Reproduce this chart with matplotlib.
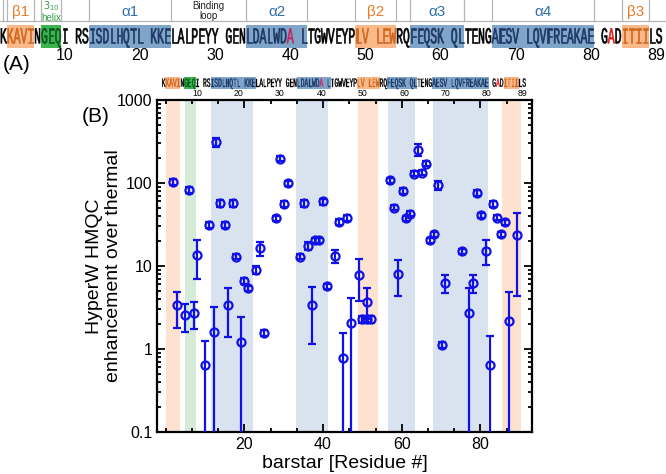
import matplotlib
matplotlib.use("Agg")
import matplotlib.pyplot as plt
import numpy as np
from matplotlib.font_manager import FontProperties
from matplotlib.patches import PathPatch, Rectangle
from matplotlib.textpath import TextPath
from matplotlib.ticker import FixedLocator, LogLocator, NullFormatter, FuncFormatter
from matplotlib.transforms import Affine2D

plt.rcParams["font.family"] = ["Liberation Sans", "DejaVu Sans"]

# ---- data ----
residue = [1.8, 2.8, 5.0, 5.9, 7.1, 7.9, 10.0, 10.9, 12.2, 12.9, 13.9, 15.0, 15.9, 17.0,
           18.0, 19.1, 20.0, 21.0, 23.0, 24.0, 25.1, 28.0, 29.1, 30.1, 31.1, 34.1, 35.1,
           36.1, 37.1, 38.0, 39.0, 40.0, 41.0, 43.0, 44.1, 45.0, 46.1, 47.1, 49.1, 50.0,
           51.1, 51.1, 52.2, 57.1, 58.1, 59.1, 60.2, 61.2, 62.2, 63.2, 64.2, 65.2, 66.2,
           67.2, 68.1, 69.2, 70.3, 71.1, 75.2, 77.2, 78.2, 79.2, 80.2, 81.3, 82.3, 83.2,
           84.3, 85.2, 86.3, 87.3, 89.4]
enhancement = [104, 3.4, 2.6, 82, 2.7, 13.6, 0.64, 31.5, 1.62, 312, 57, 31.5, 3.4, 57,
               13, 1.22, 6.6, 5.4, 9.0, 16.3, 1.57, 37.6, 196, 56, 100, 13, 57,
               17.6, 3.4, 20.5, 20.5, 60, 5.7, 13.3, 33.6, 0.77, 37.8, 2.07, 7.8, 2.28,
               2.28, 3.66, 2.28, 108, 50.5, 8.0, 80, 37.6, 42.7, 129, 250, 133, 171,
               20.4, 24.3, 94, 1.12, 6.2, 15, 2.74, 6.2, 76, 41, 15.1, 0.64, 56,
               38.2, 24.3, 33.6, 2.2, 23.8]
err_lo = [95, 1.8, 1.6, 75, 1.75, 7.0, 0.01, 29, 0.01, 275, 51, 29, 1.38, 51,
          12, 0.01, 6.1, 5.0, 8.0, 13.2, 1.45, 35, 182, 52, 93, 12, 52,
          15.8, 1.15, 19, 19, 55, 5.3, 10.8, 31, 0.01, 35, 0.01, 3.8, 2.05,
          2.05, 2.28, 2.05, 100, 47, 4.3, 74, 35, 40, 120, 211, 124, 159,
          19, 22.6, 82, 1.04, 4.7, 14, 0.01, 4.7, 69, 38, 10.3, 0.01, 52,
          35.5, 22.6, 31, 0.01, 4.4]
err_hi = [113, 4.8, 3.5, 90, 3.7, 20.5, 1.26, 34, 3.2, 350, 63, 34, 5.4, 63,
          14, 2.45, 7.1, 5.8, 10.0, 19.6, 1.7, 40, 210, 60, 107, 14, 62,
          19.6, 5.6, 22, 22, 65, 6.1, 15.6, 36.5, 1.55, 41, 4.15, 12, 2.5,
          2.5, 5.5, 2.5, 116, 54, 11.8, 86, 40, 45.5, 138, 292, 142, 183,
          22, 26, 106, 1.2, 7.8, 16, 5.5, 7.8, 83, 44, 20.5, 1.45, 60,
          41, 26, 36, 4.8, 44]

# secondary-structure shading in the plot (residue units)
band_start = [0.0, 4.8, 11.5, 33.2, 48.9, 56.4, 67.9, 85.6]
band_end = [3.6, 7.6, 22.2, 41.2, 54.0, 63.3, 81.9, 90.3]
band_kind = ["beta", "h310", "alpha", "alpha", "beta", "alpha", "alpha", "beta"]

# sequence strip
sequence = ("KKAVINGEQI RSISDLHQTL KKELALPEYY GENLDALWDA LTGWVEYPLV "
            "LEWRQFEQSK QLTENGAESV LQVFREAKAE GADITIILS")
seg_first = [1, 6, 13, 36, 52, 60, 72, 91]      # character index in `sequence`
seg_last = [4, 8, 24, 44, 57, 67, 86, 94]
red_chars = [42, 89]
number_labels = [10, 20, 30, 40, 50, 60, 70, 80, 89]
header_text = ["β1", "$3_{10}$\nhelix", "α1", "Binding\nloop", "α2", "β2", "α3", "α4", "β3"]
header_kind = ["beta", "h310", "alpha", "loop", "alpha", "beta", "alpha", "alpha", "beta"]
header_first = [1, 6, 13, 25, 36, 52, 60, 72, 91]
header_last = [4, 8, 24, 35, 44, 57, 67, 86, 94]

band_color = {"beta": "#fde2cf", "h310": "#d3ebd8", "alpha": "#d9e3ef"}
seg_bg = {"beta": "#f9b98a", "h310": "#3db54f", "alpha": "#7fa5c9"}
seg_fg = {"beta": "#d0661c", "h310": "#0b5a1f", "alpha": "#1d3766"}
label_fg = {"beta": "#ec7a2a", "h310": "#2f9e47", "alpha": "#2e6eaa", "loop": "#222222"}
BLUE = "#1010e8"
PITCH = 6.83  # px per sequence character (full-size strip)

W, H = 666, 474
fig = plt.figure(figsize=(W / 100, H / 100), dpi=100)

# ---- panel B ----
ax = fig.add_axes([157 / W, 42 / H, 375 / W, 332 / H])
for a, b, k in zip(band_start, band_end, band_kind):
    ax.axvspan(a, b, color=band_color[k], lw=0, zorder=0)

y = np.array(enhancement)
yerr = [y - np.array(err_lo), np.array(err_hi) - y]
ax.errorbar(residue, y, yerr=yerr, fmt="o", mfc="none", mec=BLUE, ecolor=BLUE,
            ms=5.8, mew=1.6, elinewidth=1.6, capsize=3, capthick=1.6, zorder=3)

ax.set_yscale("log")
ax.set_ylim(0.1, 1000)
ax.set_xlim(-2.2, 93.1)
ax.xaxis.set_major_locator(FixedLocator([20, 40, 60, 80]))
ax.xaxis.set_minor_locator(FixedLocator(np.arange(0, 93, 20 / 3)))
ax.yaxis.set_major_locator(LogLocator(base=10, numticks=10))
ax.yaxis.set_minor_locator(LogLocator(base=10, subs=np.arange(2, 10), numticks=10))
ax.yaxis.set_minor_formatter(NullFormatter())
ax.yaxis.set_major_formatter(FuncFormatter(lambda v, p: f"{v:g}"))
ax.tick_params(which="both", direction="in", top=True, right=True, width=1.3, labelsize=11.5)
ax.tick_params(which="major", length=6)
ax.tick_params(which="minor", length=3)
for sp in ax.spines.values():
    sp.set_linewidth(1.6)
ax.set_xlabel("barstar [Residue #]", fontsize=14, labelpad=2)
ax.set_ylabel("HyperW HMQC\nenhancement over thermal", fontsize=14, labelpad=-4)

# ---- sequence strips (pixel coordinates, y downwards) ----
ov = fig.add_axes([0, 0, 1, 1], zorder=5)
ov.set_xlim(0, W)
ov.set_ylim(H, 0)
ov.axis("off")

mono = FontProperties(family="Liberation Mono")
cap = TextPath((0, 0), "H", size=1, prop=mono).get_extents().height


def draw_strip(x0, y_top, s):
    pitch = PITCH * s
    for first, last, k in zip(seg_first, seg_last, band_kind):
        ov.add_patch(Rectangle((x0 + first * pitch, y_top), (last - first + 1) * pitch,
                               23 * s, color=seg_bg[k], lw=0))
    colors = ["black"] * len(sequence)
    for first, last, k in zip(seg_first, seg_last, band_kind):
        for i in range(first, last + 1):
            colors[i] = seg_fg[k]
    colors[red_chars[0]] = "#c42a5e"
    colors[red_chars[1]] = "#e31a1a"
    sx = pitch / 0.6
    sy = 15 * s / cap
    for i, ch in enumerate(sequence):
        if ch == " ":
            continue
        tp = TextPath((0, 0), ch, size=1, prop=mono)
        tr = Affine2D().translate(-0.3, 0).scale(sx, -sy).translate(
            x0 + (i + 0.5) * pitch, y_top + 18.3 * s) + ov.transData
        ov.add_patch(PathPatch(tp, transform=tr, facecolor=colors[i],
                               edgecolor=colors[i], lw=0.45 * s))
    # residue numbers
    idx = [i for i, ch in enumerate(sequence) if ch != " "]
    for n in number_labels:
        xc = x0 + (idx[n - 1] + 0.5) * pitch
        if n == number_labels[-1]:
            xc -= 3 * s
        ov.text(xc, y_top + 30.5 * s, str(n), fontsize=11.5 * s, ha="center", va="center")


draw_strip(0, 25, 1.0)
draw_strip(161.7, 76.7, 0.55)

# header boxes of panel A
edges = sorted(set([0.4] + [f for f in header_first] + [l + 1 for l in header_last]))
for e in edges:
    ov.plot([e * PITCH, e * PITCH], [0, 21], color="#b5b5b5", lw=0.9)
ov.plot([0, W], [21, 21], color="#b5b5b5", lw=0.9)
for txt, k, f, l in zip(header_text, header_kind, header_first, header_last):
    xc = (f + l + 1) / 2 * PITCH
    if "\n" in txt:
        ov.text(xc, 11, txt, fontsize=7, ha="center", va="center", color=label_fg[k],
                linespacing=1.0)
    else:
        ov.text(xc, 12, txt, fontsize=11, ha="center", va="center", color=label_fg[k])

fig.text(3 / W, 1 - 64 / H, "(A)", fontsize=15, va="center")
fig.text(82 / W, 1 - 117 / H, "(B)", fontsize=15, va="center")

fig.savefig("out.png", dpi=100)
